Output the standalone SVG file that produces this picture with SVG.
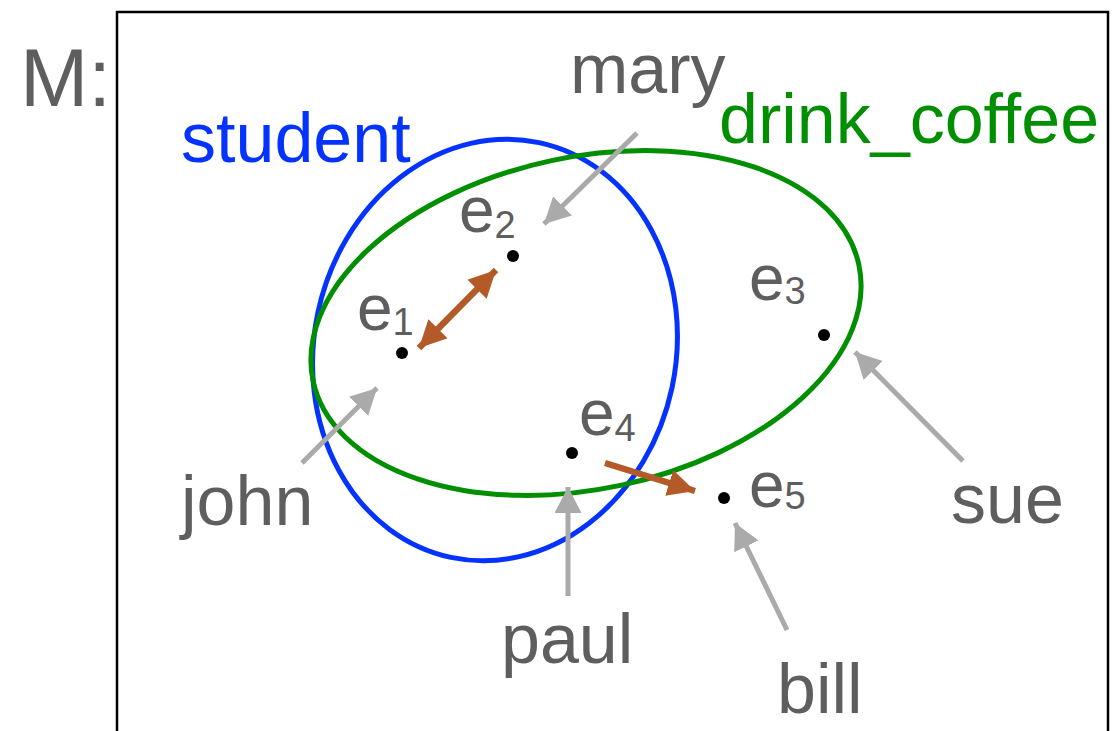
<svg xmlns="http://www.w3.org/2000/svg" width="1116" height="731" viewBox="0 0 1116 731">
<defs>
<style>
.lbl{font-family:"Liberation Sans",Arial,Helvetica,sans-serif;fill:#5e5e5e;}
.big{font-size:70px;}
.ev{font-size:64px;}
.sub{font-size:38px;}
.gray{stroke:#aaaaaa;stroke-width:5;fill:none;}
.brown{stroke:#b35a28;stroke-width:6.5;fill:none;}
.dot{fill:#000;}
</style>
<marker id="gh" viewBox="0 0 26 27" refX="26" refY="13.5" markerWidth="26" markerHeight="27" markerUnits="userSpaceOnUse" orient="auto-start-reverse">
<path d="M0,0 L26,13.5 L0,27 Z" fill="#aaaaaa"/>
</marker>
<marker id="bh" viewBox="0 0 27 27" refX="27" refY="13.5" markerWidth="27" markerHeight="27" markerUnits="userSpaceOnUse" orient="auto-start-reverse">
<path d="M0,0 L27,13.5 L0,27 Z" fill="#b35a28"/>
</marker>
</defs>
<rect width="1116" height="731" fill="#fff"/>
<rect id="frame" x="117" y="12" width="991" height="760" fill="none" stroke="#000" stroke-width="2.5"/>
<text id="title" class="lbl" x="20" y="106" font-size="82">M:</text>

<g id="student">
<ellipse cx="495" cy="350" rx="181" ry="212" transform="rotate(12 495 350)" fill="none" stroke="#0433ff" stroke-width="5"/>
<text class="lbl big" x="181" y="162" style="fill:#0433ff">student</text>
</g>
<g id="drink_coffee">
<ellipse cx="586" cy="323" rx="279" ry="166" transform="rotate(-12 586 323)" fill="none" stroke="#008f00" stroke-width="5"/>
<text class="lbl big" x="719" y="143" style="fill:#008f00">drink_coffee</text>
</g>

<g id="e1"><circle class="dot" cx="402" cy="353" r="6"/><text class="lbl ev" x="357" y="330">e<tspan class="sub" dy="5">1</tspan></text></g>
<g id="e2"><circle class="dot" cx="513" cy="256" r="6"/><text class="lbl ev" x="459" y="232">e<tspan class="sub" dy="6">2</tspan></text></g>
<g id="e3"><circle class="dot" cx="824" cy="335" r="6"/><text class="lbl ev" x="749" y="300">e<tspan class="sub" dy="4">3</tspan></text></g>
<g id="e4"><circle class="dot" cx="572" cy="453" r="6"/><text class="lbl ev" x="579" y="435">e<tspan class="sub" dy="6">4</tspan></text></g>
<g id="e5"><circle class="dot" cx="724" cy="498" r="6"/><text class="lbl ev" x="749" y="507">e<tspan class="sub" dy="2">5</tspan></text></g>

<g id="mary"><text class="lbl big" x="570" y="93">mary</text></g>
<g id="john"><text class="lbl big" x="181" y="525">john</text></g>
<g id="paul"><text class="lbl big" x="501" y="663">paul</text></g>
<g id="bill"><text class="lbl big" x="777" y="713">bill</text></g>
<g id="sue"><text class="lbl big" x="951" y="523">sue</text></g>

<g id="connectors">
<line class="gray" x1="637" y1="133" x2="544" y2="224" marker-end="url(#gh)"/>
<line class="gray" x1="302" y1="463" x2="377" y2="388" marker-end="url(#gh)"/>
<line class="gray" x1="568" y1="596" x2="568" y2="487" marker-end="url(#gh)"/>
<line class="gray" x1="787" y1="630" x2="735" y2="523" marker-end="url(#gh)"/>
<line class="gray" x1="963" y1="461" x2="855" y2="352" marker-end="url(#gh)"/>
<line class="brown" x1="419" y1="348" x2="496" y2="270" marker-start="url(#bh)" marker-end="url(#bh)"/>
<line class="brown" x1="605" y1="463" x2="695" y2="491" marker-end="url(#bh)"/>
</g>
</svg>
